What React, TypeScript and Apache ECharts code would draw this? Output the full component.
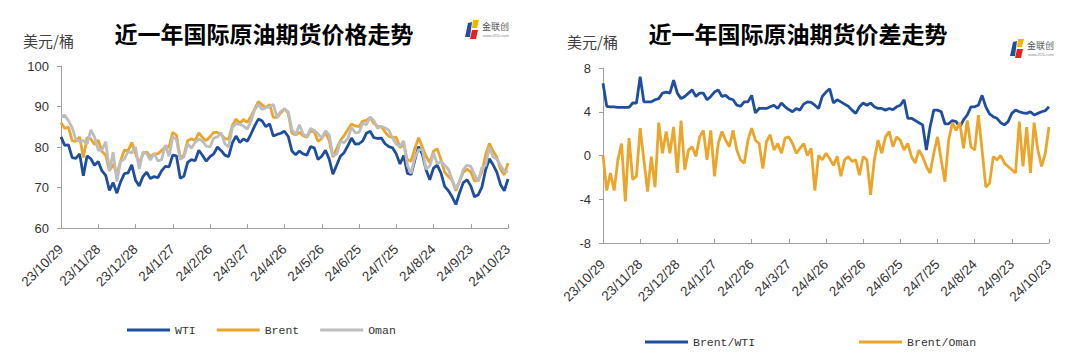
import React, { useEffect, useRef } from "react";
import * as echarts from "echarts";

// sampling: one point every 3 calendar days from 2023-10-29 to 2024-10-23
const START_DATE = "2023-10-29";
const STEP_DAYS = 3;

const wti = [
  82.5, 80.4, 80.5, 77.4, 77.2, 78.3, 72.9, 77.8, 77.1, 75.5,
  76.4, 74.1, 73.0, 69.3, 71.2, 68.6, 71.4, 73.4, 73.6, 75.6,
  71.8, 70.4, 72.7, 73.8, 72.2, 72.7, 72.4, 74.1, 75.2, 75.1,
  78.0, 77.8, 72.3, 72.8, 76.2, 76.9, 76.6, 79.2, 77.9, 76.5,
  77.6, 78.3, 80.0, 79.1, 78.0, 77.6, 81.0, 82.7, 81.1, 82.0,
  81.4, 83.2, 85.2, 86.9, 86.4, 85.0, 85.7, 82.7, 83.1, 83.4,
  83.9, 82.6, 79.0, 78.1, 79.0, 78.3, 78.0, 80.1, 79.8, 76.9,
  77.7, 79.2, 77.0, 73.3, 75.5, 77.7, 78.6, 80.3, 82.2, 80.7,
  80.8, 81.5, 83.4, 83.9, 82.3, 82.1, 82.2, 80.8, 80.1, 79.8,
  78.3, 75.8, 77.9, 73.5, 73.2, 76.8, 80.1, 78.2, 74.4, 71.9,
  74.8, 75.5, 73.6, 70.3, 69.2, 67.7, 65.8, 68.7, 71.2, 71.9,
  70.4, 67.7, 68.2, 70.1, 74.4, 77.1, 75.6, 73.8, 70.7, 69.2,
  72.1,
];

const brent = [
  86.0, 84.6, 84.9, 81.6, 81.4, 82.5, 77.4, 82.3, 82.0, 80.6,
  81.7, 78.9, 78.0, 74.1, 75.8, 73.2, 76.6, 79.2, 79.1, 81.1,
  78.4, 75.9, 78.3, 78.8, 77.6, 78.3, 78.3, 79.1, 80.1, 80.0,
  83.6, 82.9, 77.3, 78.0, 81.6, 82.0, 81.6, 83.5, 82.3, 81.6,
  82.5, 83.6, 83.6, 83.0, 82.1, 81.9, 85.3, 86.9, 85.8, 86.8,
  86.1, 87.5, 89.4, 91.2, 90.4, 89.7, 90.5, 87.3, 87.3, 88.4,
  89.5, 88.4, 83.4, 83.0, 83.6, 82.8, 82.4, 84.0, 83.7, 81.4,
  82.1, 83.6, 81.6, 77.5, 79.6, 81.6, 82.8, 84.3, 85.7, 85.2,
  85.0, 86.4, 86.6, 87.3, 85.8, 85.1, 85.0, 83.7, 82.6, 82.4,
  82.4, 79.8, 80.7, 76.8, 76.5, 79.7, 82.3, 80.0, 77.7, 76.1,
  79.0, 79.6, 76.9, 73.8, 72.7, 71.8, 69.2, 71.6, 73.7, 74.5,
  73.9, 71.6, 71.8, 73.9, 78.1, 80.9, 79.0, 77.5, 74.5, 73.1,
  76.0,
];

const oman = [
  87.5, 87.8, 86.5, 84.8, 81.8, 81.4, 81.6, 80.7, 84.2, 82.5,
  79.2, 79.3, 81.3, 74.2, 78.7, 71.5, 76.4, 77.0, 78.9, 78.5,
  80.0, 74.5, 78.8, 78.3, 76.8, 78.4, 76.6, 76.8, 80.5, 77.7,
  82.5, 81.8, 77.0, 77.5, 80.8, 79.7, 81.1, 82.0, 81.5, 80.2,
  80.0, 82.2, 82.5, 83.5, 80.8, 80.0, 84.8, 85.8, 85.6, 85.2,
  84.4, 86.4, 89.2, 90.5, 89.3, 89.7, 89.9, 90.5, 87.3, 88.8,
  89.3, 88.7, 84.3, 83.1, 85.5, 83.2, 82.5, 84.6, 84.1, 83.2,
  82.2, 84.0, 83.0, 77.9, 78.2, 81.4, 81.1, 82.1, 84.9, 83.5,
  83.6, 85.9, 85.5, 87.4, 86.5, 84.6, 85.1, 84.7, 84.2, 82.2,
  80.7, 80.2, 81.5, 75.4, 73.5, 77.4, 79.3, 79.4, 74.5, 75.3,
  78.5, 75.9, 76.4, 75.5, 74.5, 71.9, 69.6, 71.6, 74.4, 75.5,
  75.2, 73.2, 71.5, 74.9, 75.5, 80.0, 77.5, 77.0, 75.5, 74.0,
  73.9,
];

const brentWti = [
  6.6, 4.5, 4.45, 4.45, 4.4, 4.4, 4.4, 4.4, 4.8, 4.8,
  7.2, 4.9, 4.9, 4.9, 5.1, 5.2, 5.7, 5.8, 5.7, 6.9,
  5.7, 5.2, 5.4, 5.7, 6.0, 5.4, 5.7, 5.7, 5.1, 5.4,
  5.8, 6.0, 5.4, 5.5, 5.2, 5.1, 4.6, 4.5, 4.9, 4.9,
  5.5, 3.9, 4.3, 4.3, 4.3, 4.45, 4.6, 4.3, 4.8, 4.45,
  4.2, 4.0, 4.3, 4.15, 4.7, 4.9, 4.85, 4.6, 4.3, 5.4,
  5.8, 6.1, 4.8, 5.1, 4.9, 4.7, 4.5, 4.15, 3.85, 4.45,
  4.8, 4.6, 4.8, 4.45, 4.3, 4.3, 4.15, 4.3, 4.2, 4.45,
  4.6, 5.1, 3.4, 3.4, 3.2, 3.0, 2.8, 0.5, 2.6, 4.15,
  4.15, 4.0, 2.9, 2.9, 3.2, 3.1, 2.6, 3.25, 3.7, 4.45,
  4.45, 4.6, 5.5, 4.45, 3.8, 3.55, 3.4, 3.0, 2.8, 3.1,
  3.85, 4.15, 4.0, 3.9, 3.85, 4.0, 3.7, 3.85, 4.0, 4.1,
  4.45,
];

const brentOman = [
  0.0, -3.2, -1.6, -3.2, -0.4, 1.1, -4.2, 1.6, -2.2, -1.9,
  2.5, -0.4, -3.3, -0.1, -2.9, 3.0, 0.2, 2.2, 0.2, 2.6,
  -1.6, 3.2, -1.3, 0.5, 0.8, -0.1, 1.7, 2.3, -0.4, 2.3,
  -1.9, 1.1, 2.2, 1.4, 0.8, 2.3, 0.5, -0.4, -0.7, 1.4,
  2.5, 1.4, 1.1, -1.2, 1.3, 1.9, 0.5, 1.1, 0.2, 1.6,
  1.7, 1.1, 0.2, 0.65, 1.1, 0.0, 0.65, -3.2, 0.0, -0.4,
  0.2, -0.3, -0.9, -0.1, -1.9, -0.4, -0.1, -0.55, -0.4, -1.8,
  -0.1, -0.4, -3.6, -0.4, 1.4, 0.2, 1.7, 2.2, 0.8, 1.7,
  1.4, 0.5, 1.1, -0.1, -0.7, 0.5, -0.1, -1.0, -1.6, 0.2,
  1.7, -0.4, -2.4, 1.4, 3.0, 2.3, 3.0, 0.65, 3.2, 0.8,
  0.5, 3.7, 0.5, -2.9, -2.55, -0.1, -0.4, 0.0, -0.7, -1.0,
  -1.3, -1.6, 3.1, -1.0, 2.6, -1.6, 3.0, 0.5, -1.0, 0.2,
  2.6,
];

const leftTitle = "近一年国际原油期货价格走势";
const rightTitle = "近一年国际原油期货价差走势";
const unitLabel = "美元/桶";
const leftNames = ["WTI", "Brent", "Oman"];
const rightNames = ["Brent/WTI", "Brent/Oman"];
const priceTicks = { min: 60, max: 100, interval: 10 };
const spreadTicks = { min: -8, max: 8, interval: 4 };

const BLUE = "#1f4e9f";
const ORANGE = "#eba52a";
const GRAY = "#bdbdbd";

function makeDates(n: number): string[] {
  const out: string[] = [];
  const base = new Date(START_DATE + "T00:00:00");
  for (let i = 0; i < n; i++) {
    const d = new Date(base.getTime());
    d.setDate(base.getDate() + i * STEP_DAYS);
    out.push(`${String(d.getFullYear()).slice(2)}/${d.getMonth() + 1}/${d.getDate()}`);
  }
  return out;
}

function logo(x: number, y: number) {
  return {
    type: "group",
    x,
    y,
    children: [
      { type: "polygon", shape: { points: [[4, 3], [8, 2], [6, 17], [1, 17]] }, style: { fill: "#1f4fa5" } },
      { type: "polygon", shape: { points: [[9, 0], [15, 0], [13, 8], [8, 8]] }, style: { fill: "#f4b400" } },
      { type: "polygon", shape: { points: [[8, 10], [14, 10], [12, 19], [6, 19]] }, style: { fill: "#e2231a" } },
      { type: "text", x: 18, y: 2, style: { text: "金联创", fontSize: 9, fill: "#555", fontFamily: "Noto Sans CJK SC" } },
      { type: "text", x: 19, y: 13, style: { text: "www.315i.com", fontSize: 4, fill: "#888", fontFamily: "Liberation Sans" } },
    ],
  };
}

export default function App() {
  const ref = useRef<HTMLDivElement>(null);
  useEffect(() => {
    if (!ref.current) return;
    const chart = echarts.init(ref.current, undefined, { renderer: "svg" });
    const dates = makeDates(wti.length);
    const axisColor = "#a0a0a0";
    const labelColor = "#333";

    const xAxisFor = (g: number) => ({
      type: "category",
      gridIndex: g,
      data: dates,
      boundaryGap: false,
      axisLine: { show: true, onZero: false, lineStyle: { color: axisColor, width: 1 } },
      axisTick: { show: true, inside: true, length: 4, interval: 9, lineStyle: { color: axisColor } },
      axisLabel: {
        interval: 9,
        rotate: 45,
        margin: 19,
        fontSize: 13.5,
        color: labelColor,
        fontFamily: "Liberation Sans",
      },
      splitLine: { show: false },
    });

    const yAxisFor = (g: number, t: { min: number; max: number; interval: number }) => ({
      type: "value",
      gridIndex: g,
      min: t.min,
      max: t.max,
      interval: t.interval,
      axisLine: { show: true, lineStyle: { color: axisColor, width: 1 } },
      axisTick: { show: true, inside: false, length: 4, lineStyle: { color: axisColor } },
      axisLabel: { margin: 12, fontSize: 13, color: labelColor, fontFamily: "Liberation Sans" },
      splitLine: { show: false },
    });

    const line = (name: string, data: number[], color: string, xi: number) => ({
      name,
      type: "line",
      xAxisIndex: xi,
      yAxisIndex: xi,
      data,
      showSymbol: false,
      symbol: "none",
      color,
      lineStyle: { color, width: 2.8 },
    });

    const legendText = { fontFamily: "Liberation Mono", fontSize: 11.5, color: "#333" };

    chart.setOption({
      animation: false,
      backgroundColor: "#ffffff",
      grid: [
        { left: 61, top: 66, width: 447, height: 162 },
        { left: 603, top: 68, width: 446, height: 175 },
      ],
      xAxis: [xAxisFor(0), xAxisFor(1)],
      yAxis: [yAxisFor(0, priceTicks), yAxisFor(1, spreadTicks)],
      legend: [
        {
          left: 127,
          top: 324,
          padding: 0,
          itemWidth: 43,
          itemHeight: 3,
          itemGap: 21,
          icon: "rect",
          data: leftNames,
          textStyle: legendText,
        },
        {
          left: 645,
          top: 336,
          padding: 0,
          itemWidth: 43,
          itemHeight: 3,
          itemGap: 104,
          icon: "rect",
          data: rightNames,
          textStyle: legendText,
        },
      ],
      series: [
        line(leftNames[0], wti, BLUE, 0),
        line(leftNames[1], brent, ORANGE, 0),
        line(leftNames[2], oman, GRAY, 0),
        line(rightNames[0], brentWti, BLUE, 1),
        line(rightNames[1], brentOman, ORANGE, 1),
      ],
      graphic: [
        {
          type: "text",
          x: 264,
          y: 33,
          style: {
            text: leftTitle,
            fontSize: 23,
            fontWeight: "bold",
            fill: "#000",
            fontFamily: "Noto Sans CJK SC",
            textAlign: "center",
            textVerticalAlign: "middle",
          },
        },
        {
          type: "text",
          x: 798,
          y: 33,
          style: {
            text: rightTitle,
            fontSize: 23,
            fontWeight: "bold",
            fill: "#000",
            fontFamily: "Noto Sans CJK SC",
            textAlign: "center",
            textVerticalAlign: "middle",
          },
        },
        {
          type: "text",
          x: 23,
          y: 40,
          style: { text: unitLabel, fontSize: 15, fill: "#404040", fontFamily: "Noto Sans CJK SC", textVerticalAlign: "middle" },
        },
        {
          type: "text",
          x: 567,
          y: 41,
          style: { text: unitLabel, fontSize: 15, fill: "#404040", fontFamily: "Noto Sans CJK SC", textVerticalAlign: "middle" },
        },
        logo(464, 20),
        logo(1009, 39),
      ],
    });
    return () => chart.dispose();
  }, []);

  return (
    <div
      ref={ref}
      style={{ position: "absolute", left: 0, top: 0, width: 1074, height: 355, background: "#fff" }}
    />
  );
}
